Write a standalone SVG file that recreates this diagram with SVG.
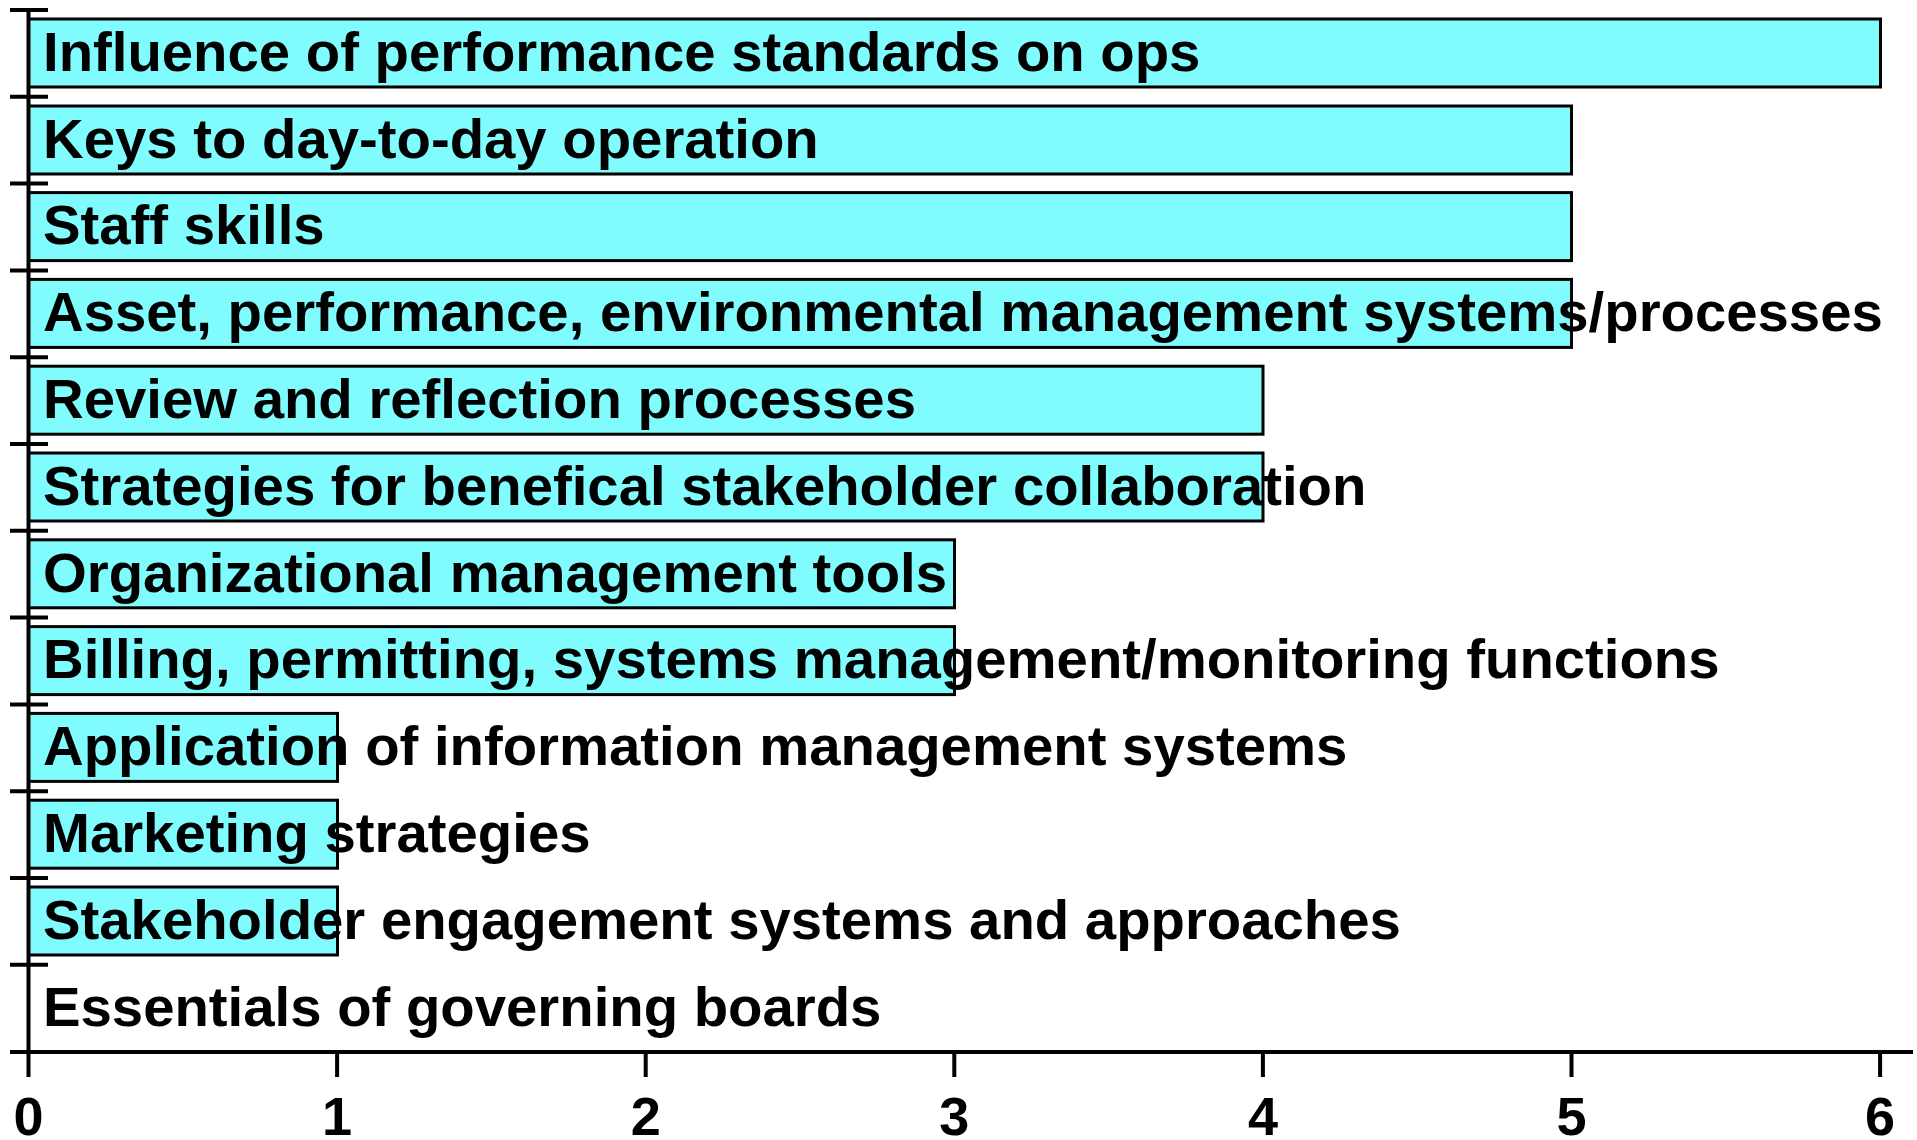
<svg xmlns="http://www.w3.org/2000/svg" width="1917" height="1140" viewBox="0 0 1917 1140">
<style>
.bar{fill:#80FCFF;stroke:#000;stroke-width:3}
.lbl{font-family:"Liberation Sans",Arial,sans-serif;font-weight:bold;font-size:56.3px;fill:#000}
.num{font-family:"Liberation Sans",Arial,sans-serif;font-weight:bold;font-size:54px;fill:#000;text-anchor:middle}
.ax{stroke:#000;stroke-width:4;fill:none}
</style>
<rect width="1917" height="1140" fill="#fff"/>
<g id="bars">
<rect class="bar" x="28.5" y="19" width="1852" height="68"/>
<rect class="bar" x="28.5" y="106" width="1543" height="68"/>
<rect class="bar" x="28.5" y="192.6" width="1543" height="68"/>
<rect class="bar" x="28.5" y="279.4" width="1543" height="68"/>
<rect class="bar" x="28.5" y="366.2" width="1234.5" height="68"/>
<rect class="bar" x="28.5" y="453" width="1234.5" height="68"/>
<rect class="bar" x="28.5" y="539.8" width="926" height="68"/>
<rect class="bar" x="28.5" y="626.6" width="926" height="68"/>
<rect class="bar" x="28.5" y="713.4" width="309" height="68"/>
<rect class="bar" x="28.5" y="800.2" width="309" height="68"/>
<rect class="bar" x="28.5" y="887" width="309" height="68"/>
</g>
<g id="axes">
<path class="ax" d="M28.5 10V1052M10 1052H1913"/>
<path class="ax" d="M10 10H48M10 96.8H48M10 183.6H48M10 270.4H48M10 357.2H48M10 444H48M10 530.8H48M10 617.6H48M10 704.4H48M10 791.2H48M10 878H48M10 964.8H48"/>
<path class="ax" d="M28.5 1052V1077M337.1 1052V1077M645.7 1052V1077M954.3 1052V1077M1262.9 1052V1077M1571.5 1052V1077M1880.1 1052V1077"/>
</g>
<g id="labels">
<text class="lbl" x="43" y="70.7">Influence of performance standards on ops</text>
<text class="lbl" x="43" y="157.5">Keys to day-to-day operation</text>
<text class="lbl" x="43" y="244.3">Staff skills</text>
<text class="lbl" x="43" y="331.1">Asset, performance, environmental management systems/processes</text>
<text class="lbl" x="43" y="417.9">Review and reflection processes</text>
<text class="lbl" x="43" y="504.7">Strategies for benefical stakeholder collaboration</text>
<text class="lbl" x="43" y="591.5">Organizational management tools</text>
<text class="lbl" x="43" y="678.3">Billing, permitting, systems management/monitoring functions</text>
<text class="lbl" x="43" y="765.1">Application of information management systems</text>
<text class="lbl" x="43" y="851.9">Marketing strategies</text>
<text class="lbl" x="43" y="938.7">Stakeholder engagement systems and approaches</text>
<text class="lbl" x="43" y="1025.5">Essentials of governing boards</text>
</g>
<g id="ticks">
<text class="num" x="28.5" y="1135">0</text>
<text class="num" x="337.1" y="1135">1</text>
<text class="num" x="645.7" y="1135">2</text>
<text class="num" x="954.3" y="1135">3</text>
<text class="num" x="1262.9" y="1135">4</text>
<text class="num" x="1571.5" y="1135">5</text>
<text class="num" x="1880.1" y="1135">6</text>
</g>
</svg>
